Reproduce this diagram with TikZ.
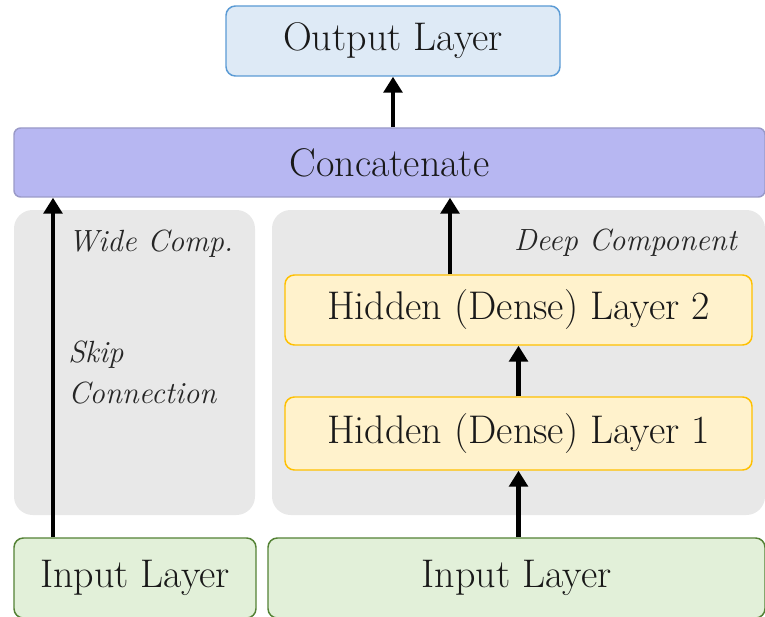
\documentclass[tikz,border=0pt]{standalone}
\usetikzlibrary{arrows.meta}
\definecolor{outfill}{HTML}{DEEAF6}
\definecolor{outdraw}{HTML}{5B9BD5}
\definecolor{catfill}{HTML}{B7B7F2}
\definecolor{catdraw}{HTML}{9A9AC8}
\definecolor{grayfill}{HTML}{E8E8E8}
\definecolor{hidfill}{HTML}{FFF2CC}
\definecolor{hiddraw}{HTML}{FFC000}
\definecolor{infill}{HTML}{E2F0D9}
\definecolor{indraw}{HTML}{548235}
\tikzset{
  sz/.style 2 args={minimum width=#1*0.75pt, minimum height=#2*0.75pt, inner sep=0pt},
  lbl/.style={font=\fontsize{30}{34}\selectfont, text=black!90},
  outbox/.style={lbl, draw=outdraw, fill=outfill, line width=1.1pt, rounded corners=7pt},
  catbox/.style={lbl, draw=catdraw, fill=catfill, line width=1.1pt, rounded corners=5pt},
  hidbox/.style={lbl, draw=hiddraw, fill=hidfill, line width=1.1pt, rounded corners=7pt},
  inbox/.style={lbl, draw=indraw, fill=infill, line width=1.1pt, rounded corners=7pt},
  grp/.style={fill=grayfill, draw=none, rounded corners=14pt},
  note/.style={font=\fontsize{23}{28}\selectfont\itshape, text=black!85, inner sep=0pt},
  arr/.style={line width=3.6pt, -{Triangle[width=14pt,length=12pt]}}
}
\begin{document}
\begin{tikzpicture}[x=0.75pt,y=-0.75pt]
\useasboundingbox (0,0) rectangle (765,617);
\fill[white] (0,0) rectangle (765,617);
% groups
\node[grp, sz={241}{305}] (wide) at (134.5,362.5) {};
\node[grp, sz={493}{305}] (deep) at (518.5,362.5) {};
% boxes
\node[outbox, sz={334}{70}] (out) at (393,41) {Output Layer};
\node[catbox, sz={751}{69}] (cat) at (389.5,162.5) {Concatenate};
\node[hidbox, sz={467}{70}] (h2) at (518.5,310) {Hidden (Dense) Layer 2};
\node[hidbox, sz={467}{73}] (h1) at (518.5,433.5) {Hidden (Dense) Layer 1};
\node[inbox, sz={242}{80}] (inw) at (135,578) {Input Layer};
\node[inbox, sz={497}{80}] (ind) at (516.5,578) {Input Layer};
% notes
\node[note, anchor=base west] (wc) at (68,252) {Wide Comp.};
\node[note, anchor=base west] (sc1) at (68,362) {Skip};
\node[note, anchor=base west] (sc2) at (68,403) {Connection};
\node[note, anchor=base east] (dc) at (737,250) {Deep Component};
% arrows
\coordinate (a0) at (53,538);
\draw[arr] (inw.north -| a0) -- (cat.south -| a0);
\draw[arr] (cat.north -| out) -- (out.south);
\coordinate (a1) at (450,0);
\draw[arr] (h2.north -| a1) -- (cat.south -| a1);
\draw[arr] (h1.north) -- (h2.south);
\draw[arr] (ind.north -| h1) -- (h1.south);
\end{tikzpicture}
\end{document}
